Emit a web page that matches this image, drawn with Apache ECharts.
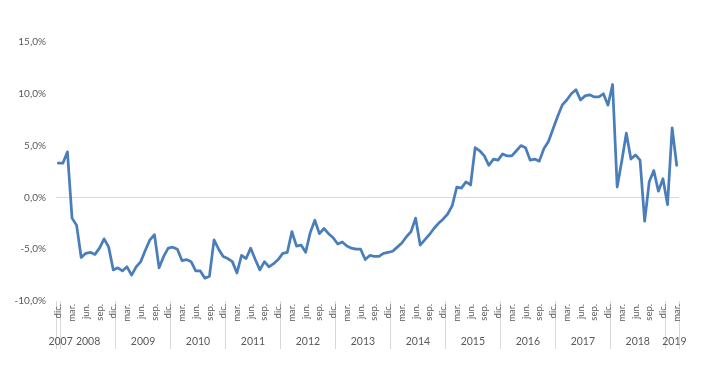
<!DOCTYPE html>
<html><head><meta charset="utf-8">
<script src="https://cdn.jsdelivr.net/npm/echarts@6/dist/echarts.min.js"></script>
<style>html,body{margin:0;padding:0;background:#fff}#c{width:720px;height:369px}</style>
</head><body><div id="c"></div>
<script>
// Month names (Spanish abbreviations) used to build the category axis: dic. 2007 … mar. 2019
const monthNames = ['ene.','feb.','mar.','abr.','may.','jun.','jul.','ago.','sep.','oct.','nov.','dic.'];
const firstYear = 2007, firstMonthIdx = 11, monthCount = 136;
const categories = [];
for (let i = 0; i < monthCount; i++) {
  const m = (firstMonthIdx + i) % 12;
  const y = firstYear + Math.floor((firstMonthIdx + i) / 12);
  categories.push(monthNames[m] + ' ' + y);
}
// Monthly values (%)
const values = [
  3.3, 3.3, 4.4, -2.0, -2.7, -5.8, -5.4, -5.3, -5.5, -4.9, -4.0, -4.8,
  -7.0, -6.8, -7.1, -6.7, -7.5, -6.7, -6.2, -5.1, -4.1, -3.6, -6.8, -5.7,
  -4.9, -4.8, -5.0, -6.1, -6.0, -6.2, -7.1, -7.1, -7.8, -7.6, -4.1, -5.0,
  -5.7, -5.9, -6.2, -7.3, -5.6, -5.9, -4.9, -6.0, -7.0, -6.2, -6.7, -6.4,
  -6.0, -5.4, -5.3, -3.3, -4.7, -4.6, -5.3, -3.4, -2.2, -3.5, -3.0, -3.5,
  -3.9, -4.5, -4.3, -4.7, -4.9, -5.0, -5.0, -6.0, -5.6, -5.7, -5.7, -5.4,
  -5.3, -5.2, -4.8, -4.4, -3.8, -3.3, -2.0, -4.6, -4.1, -3.6, -3.0, -2.5,
  -2.1, -1.6, -0.8, 1.0, 0.9, 1.5, 1.2, 4.8, 4.5, 4.0, 3.1, 3.7,
  3.6, 4.2, 4.0, 4.0, 4.5, 5.0, 4.8, 3.6, 3.7, 3.5, 4.7, 5.4,
  6.6, 7.8, 8.9, 9.4, 10.0, 10.4, 9.4, 9.8, 9.9, 9.7, 9.7, 10.0,
  8.9, 10.9, 1.0, 3.5, 6.2, 3.7, 4.1, 3.6, -2.3, 1.5, 2.6, 0.6,
  1.8, -0.7, 6.7, 3.1
];
// Month labels shown on the axis
const shownMonths = ['mar.','jun.','sep.','dic.'];
// Year labels and the category where each is centred
const yearLabels = ['2007','2008','2009','2010','2011','2012','2013','2014','2015','2016','2017','2018','2019'];
const yearLabelCats = ['dic. 2007','jun. 2008','jun. 2009','jun. 2010','jun. 2011','jun. 2012','jun. 2013','jun. 2014','jun. 2015','jun. 2016','jun. 2017','jun. 2018','feb. 2019'];
// Value axis
const yMin = -10, yMax = 15, yStep = 5;

const FONT = 'Lato, "Open Sans", sans-serif';
const TXT = '#595959';
const chart = echarts.init(document.getElementById('c'), null, {renderer: 'canvas'});
chart.setOption({
  animation: false,
  backgroundColor: '#ffffff',
  grid: {left: 56, right: 41, top: 42, bottom: 68, containLabel: false},
  xAxis: [{
    type: 'category', data: categories, boundaryGap: true, position: 'bottom',
    axisLine: {show: false, onZero: false},
    axisTick: {
      show: true, length: 48, lineStyle: {color: '#d9d9d9', width: 1},
      interval: function (idx, val) { return idx === 0 || String(val).indexOf('ene.') === 0; }
    },
    axisLabel: {
      interval: function (idx, val) { return shownMonths.indexOf(String(val).split(' ')[0]) >= 0; },
      formatter: function (val) { return val.split(' ')[0]; },
      rotate: 90, margin: 3, fontSize: 9.5, color: TXT, fontFamily: FONT
    },
    splitLine: {show: false}
  }, {
    type: 'category', data: categories, boundaryGap: true, position: 'bottom', gridIndex: 0,
    axisLine: {show: false, onZero: false}, axisTick: {show: false},
    axisLabel: {
      interval: function (idx, val) { return yearLabelCats.indexOf(val) >= 0; },
      formatter: function (val) { return yearLabels[yearLabelCats.indexOf(val)]; },
      margin: 35, fontSize: 10.5, color: TXT, fontFamily: FONT, padding: [0, 0, 0, 4.6]
    },
    splitLine: {show: false}
  }],
  yAxis: {
    type: 'value', min: yMin, max: yMax, interval: yStep,
    axisLine: {show: false}, axisTick: {show: false},
    axisLabel: {
      formatter: function (v) { return v.toFixed(1).replace('.', ',') + '%'; },
      margin: 10, fontSize: 10, color: TXT, fontFamily: FONT
    },
    splitLine: {show: true, lineStyle: {color: ['rgba(0,0,0,0)','rgba(0,0,0,0)','#d9d9d9','rgba(0,0,0,0)','rgba(0,0,0,0)','rgba(0,0,0,0)'], width: 1}}
  },
  series: [{
    type: 'line', data: values, xAxisIndex: 0, yAxisIndex: 0,
    showSymbol: false, symbol: 'none', smooth: false,
    lineStyle: {color: '#4a7ebb', width: 2.75, join: 'round', cap: 'round'}
  }]
});
</script>
</body></html>
